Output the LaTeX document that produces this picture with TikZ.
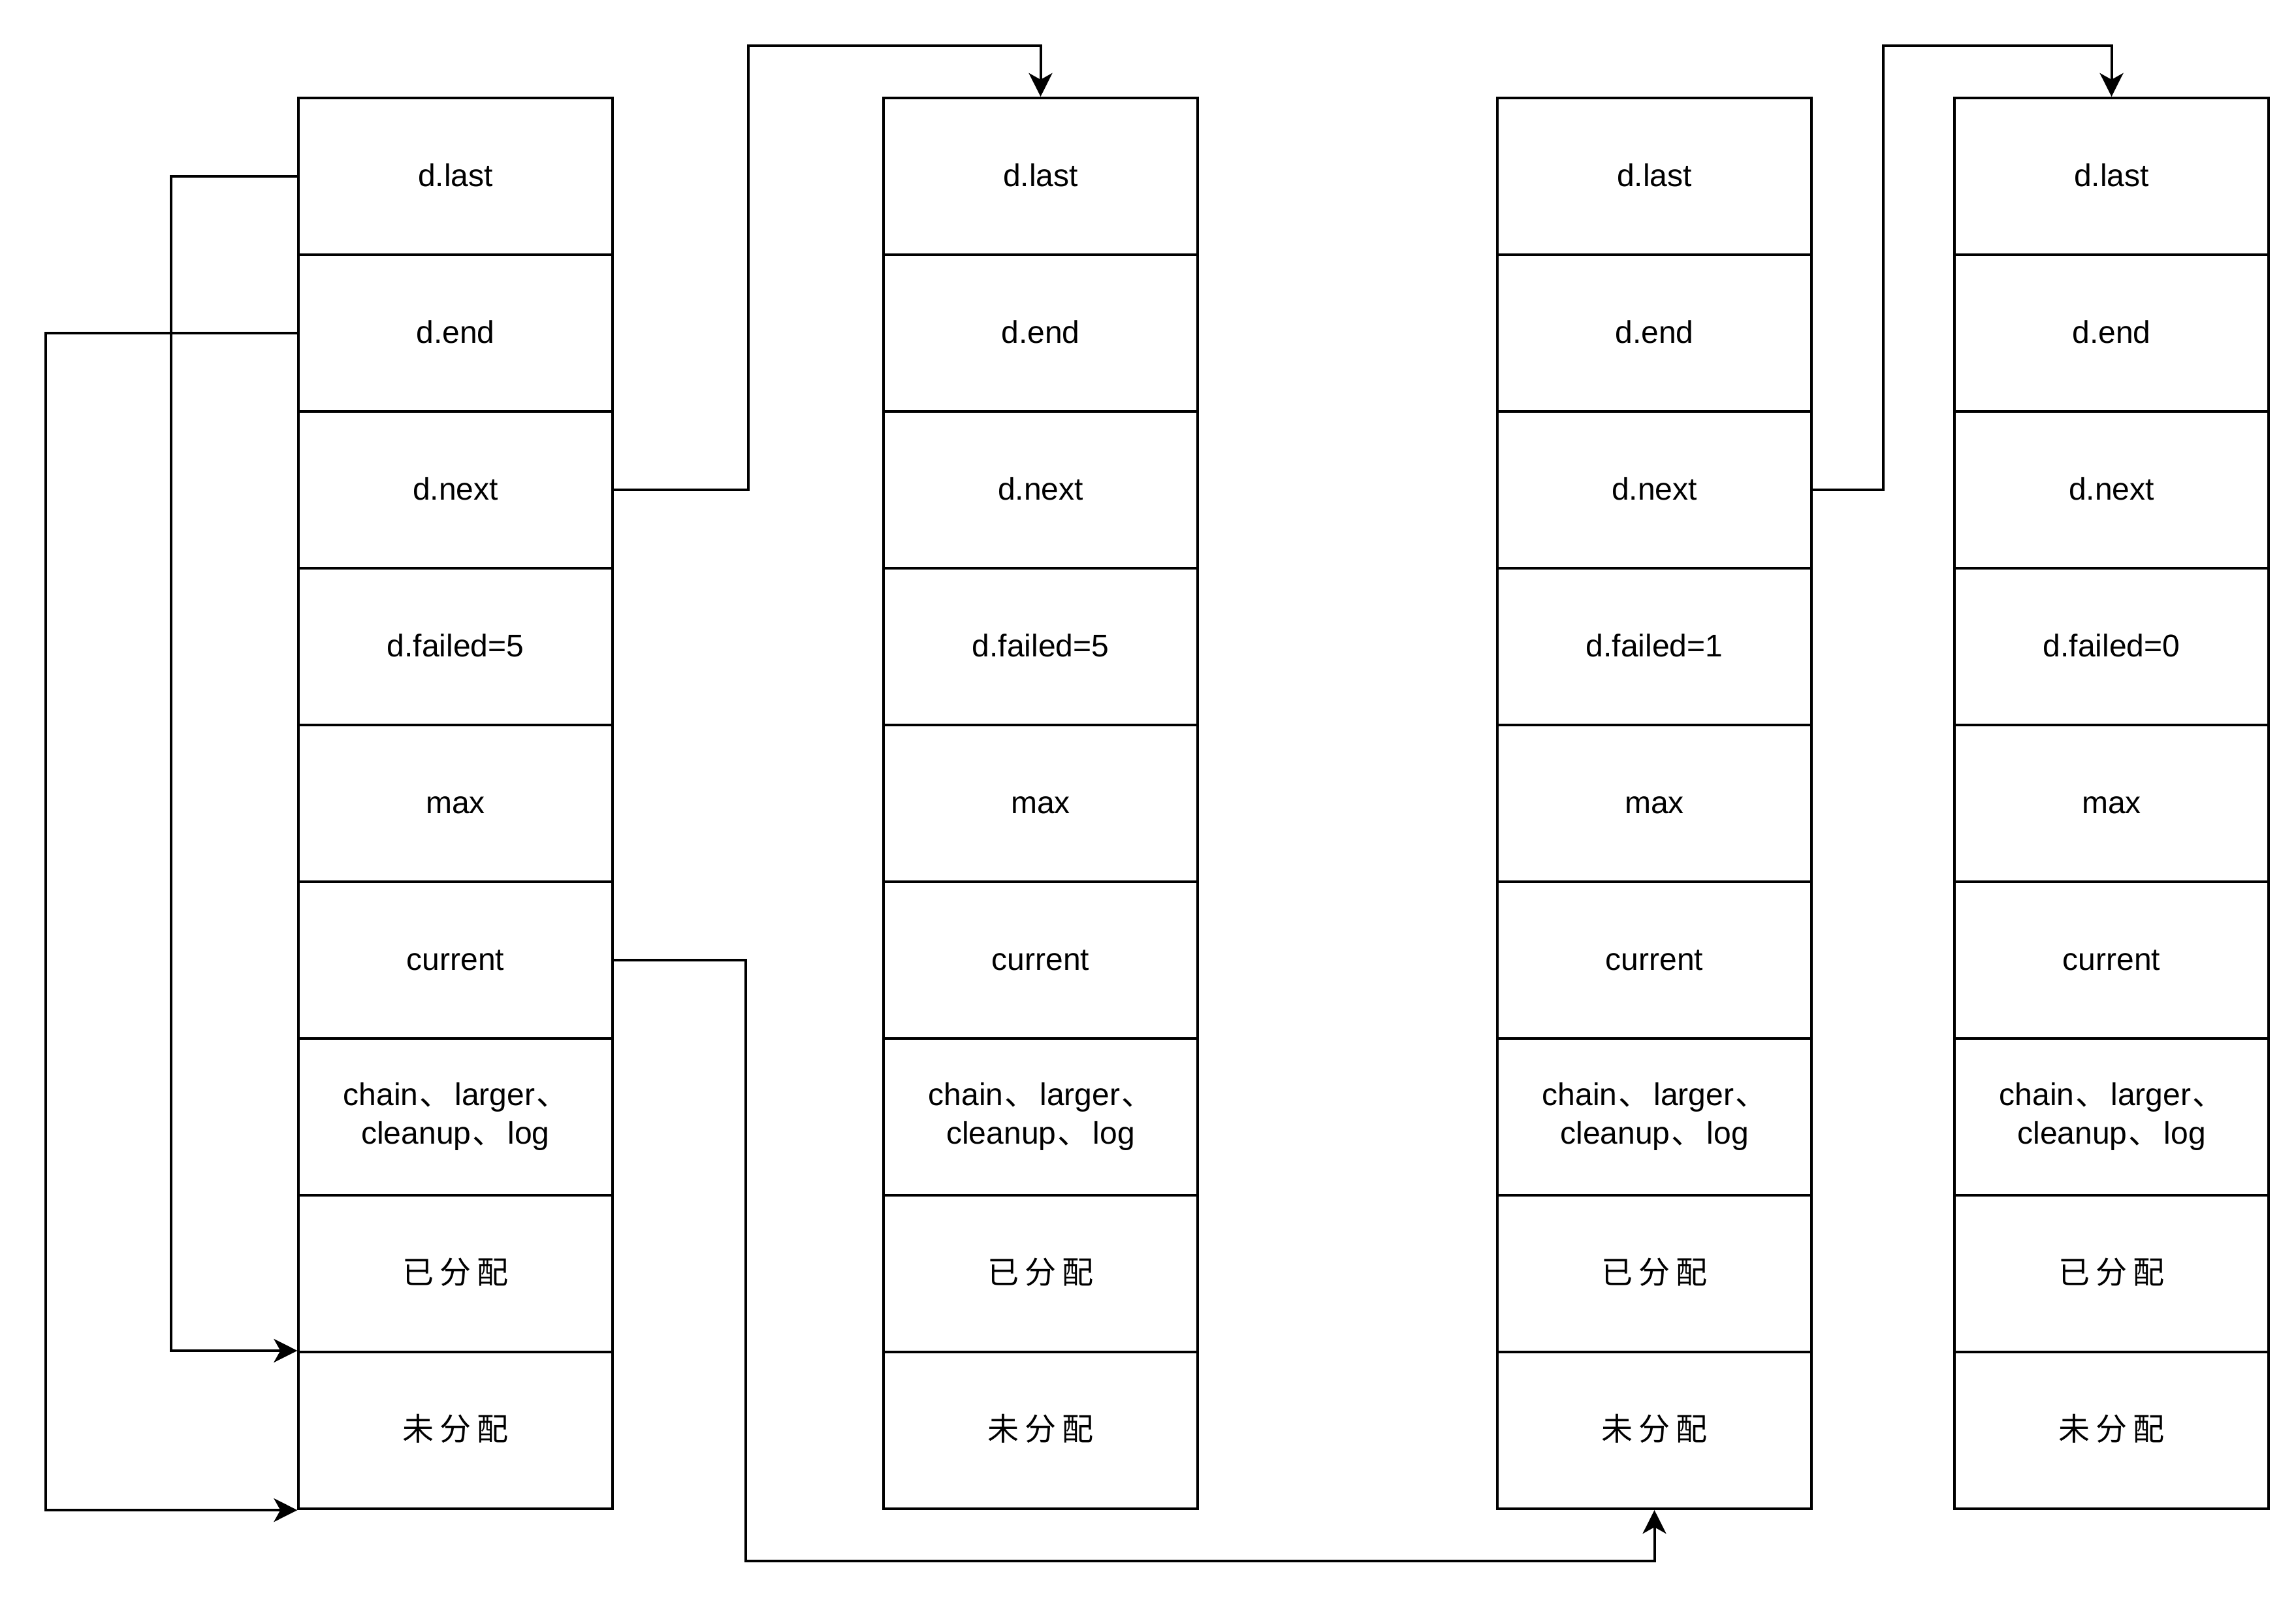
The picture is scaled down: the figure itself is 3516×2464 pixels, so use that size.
\documentclass[tikz,border=0pt]{standalone}
\usepackage{fontspec}
\setmainfont{Liberation Sans}
\newfontfamily\cjk{Noto Sans CJK SC}
\usetikzlibrary{arrows.meta}
\newcommand{\cjkgap}{\hspace{0.09cm}}
\newcommand{\dun}{\hspace{0.02cm}{\cjk 、}\hspace{0.06cm}}
\tikzset{
  cellbase/.style={draw, line width=0.04cm, minimum width=4.8cm, minimum height=2.4cm,
    inner sep=0pt, font=\fontsize{13.66pt}{17pt}\selectfont},
  cell/.style={cellbase, text height=0.36cm, text depth=0.06cm},
  multicell/.style={cellbase, align=center},
  arr/.style={draw, line width=0.04cm, -{Stealth[length=0.36cm, width=0.36cm, inset=0.1cm]}}
}
\begin{document}
\begin{tikzpicture}[x=0.01cm, y=-0.01cm]
\useasboundingbox (0,0) rectangle (3516,2464);
\foreach \b/\cx/\f in {1/697.5/5, 2/1593.5/5, 3/2533.5/1, 4/3233.5/0}{
  \node[cell] (b\b r1) at (\cx,270) {d.last};
  \node[cell] (b\b r2) at (\cx,510) {d.end};
  \node[cell] (b\b r3) at (\cx,750) {d.next};
  \node[cell] (b\b r4) at (\cx,990) {d.failed=\f};
  \node[cell] (b\b r5) at (\cx,1230) {max};
  \node[cell] (b\b r6) at (\cx,1470) {current};
  \node[multicell] (b\b r7) at (\cx,1710) {\raisebox{0pt}[0.36cm][0pt]{}chain\dun larger\dun\\cleanup\dun log\raisebox{0pt}[0pt][0.12cm]{}};
  \node[cell] (b\b r8) at (\cx,1950) {{\cjk 已\cjkgap 分\cjkgap 配}};
  \node[cell] (b\b r9) at (\cx,2190) {{\cjk 未\cjkgap 分\cjkgap 配}};
}
\coordinate (l1) at (261.5,270);
\coordinate (l2) at (69.5,510);
\coordinate (t1) at (1146,70);
\coordinate (t2) at (1142,2390);
\coordinate (t3) at (2883.5,70);
\draw[arr] (b1r1.west) -- (l1) |- (b1r9.north west);
\draw[arr] (b1r2.west) -- (l2) |- (b1r9.south west);
\draw[arr] (b1r3.east) -| (t1) -| (b2r1.north);
\draw[arr] (b1r6.east) -| (t2) -| (b3r9.south);
\draw[arr] (b3r3.east) -| (t3) -| (b4r1.north);
\end{tikzpicture}
\end{document}
